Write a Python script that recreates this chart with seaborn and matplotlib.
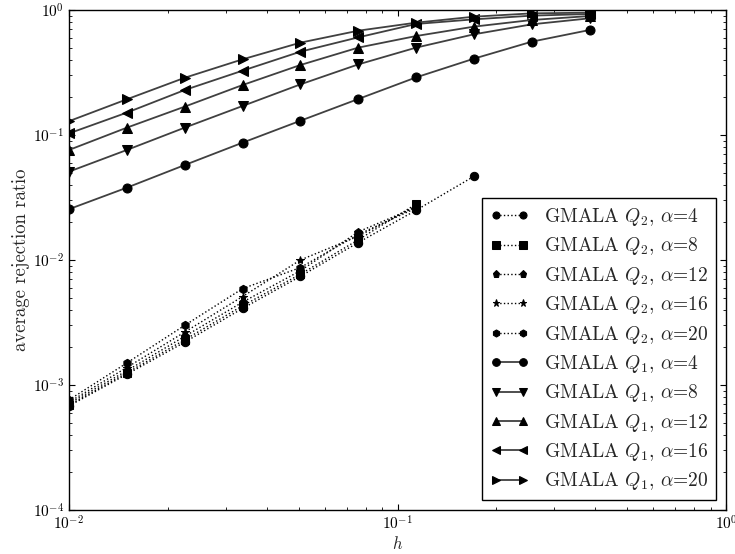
import matplotlib
matplotlib.use("Agg")
import matplotlib.pyplot as plt
import seaborn as sns
import pandas as pd

## step sizes h (geometric, ratio 1.5)
h_q1 = [0.01, 0.015, 0.0225, 0.03375, 0.050625, 0.0759375, 0.11390625, 0.170859375, 0.2562890625, 0.38443359375]
h_q2 = h_q1[:8]

alphas = [4, 8, 12, 16, 20]

## GMALA Q2 (dotted)
q2_a4 = [6.8e-4, 1.22e-3, 2.2e-3, 4.1e-3, 7.4e-3, 1.38e-2, 2.5e-2, 4.67e-2]
q2_a8 = [6.9e-4, 1.25e-3, 2.3e-3, 4.3e-3, 7.7e-3, 1.45e-2, 2.8e-2]
q2_a12 = [7.1e-4, 1.3e-3, 2.45e-3, 4.6e-3, 8.2e-3, 1.68e-2, 2.65e-2]
q2_a16 = [7.3e-4, 1.38e-3, 2.65e-3, 5.1e-3, 1.0e-2, 1.55e-2, 2.7e-2]
q2_a20 = [7.6e-4, 1.5e-3, 3.0e-3, 5.9e-3, 8.7e-3, 1.6e-2, 2.6e-2]

## GMALA Q1 (solid)
q1_a4 = [0.0255, 0.0379, 0.0575, 0.0868, 0.130, 0.194, 0.289, 0.408, 0.558, 0.692]
q1_a8 = [0.0509, 0.0759, 0.1145, 0.1706, 0.254, 0.367, 0.50, 0.639, 0.768, 0.858]
q1_a12 = [0.0759, 0.1145, 0.1686, 0.251, 0.363, 0.50, 0.619, 0.736, 0.832, 0.895]
q1_a16 = [0.103, 0.151, 0.229, 0.327, 0.464, 0.604, 0.773, 0.842, 0.901, 0.929]
q1_a20 = [0.129, 0.193, 0.287, 0.403, 0.548, 0.683, 0.792, 0.884, 0.94, 0.952]

q2_series = [q2_a4, q2_a8, q2_a12, q2_a16, q2_a20]
q1_series = [q1_a4, q1_a8, q1_a12, q1_a16, q1_a20]
q2_markers = ["o", "s", "p", "*", "h"]
q1_markers = ["o", "v", "^", "<", ">"]

sns.set_style("ticks")
plt.rcParams["font.family"] = ["cmr10", "DejaVu Serif"]
plt.rcParams["mathtext.fontset"] = "cm"
plt.rcParams["axes.formatter.use_mathtext"] = True

fig = plt.figure(figsize=(7.35, 5.54), dpi=100)
ax = fig.add_axes([69 / 735, 44 / 554, 657 / 735, 500 / 554])

for a, vals, mk in zip(alphas, q2_series, q2_markers):
    df = pd.DataFrame({"h": h_q2[:len(vals)], "ratio": vals})
    sns.lineplot(data=df, x="h", y="ratio", ax=ax, color="k", linestyle=":", linewidth=1.0,
                 marker=mk, markersize=6, markeredgecolor="k", markerfacecolor="k",
                 label=r"GMALA $Q_2$, $\alpha$=%d" % a)
for a, vals, mk in zip(alphas, q1_series, q1_markers):
    df = pd.DataFrame({"h": h_q1[:len(vals)], "ratio": vals})
    sns.lineplot(data=df, x="h", y="ratio", ax=ax, color="0.25", linestyle="-", linewidth=1.3,
                 marker=mk, markersize=6.5, markeredgecolor="k", markerfacecolor="k",
                 label=r"GMALA $Q_1$, $\alpha$=%d" % a)

ax.set_xscale("log")
ax.set_yscale("log")
ax.set_xlim(1e-2, 1e0)
ax.set_ylim(1e-4, 1e0)
ax.set_xlabel(r"$h$", fontsize=12, labelpad=1)
ax.set_ylabel("average rejection ratio", fontsize=13.5, labelpad=2)
ax.tick_params(which="both", direction="in", top=True, right=True, labelsize=11, colors="k")
ax.tick_params(which="major", length=4)
ax.tick_params(which="minor", length=2)
for sp in ax.spines.values():
    sp.set_color("k")
    sp.set_linewidth(1.0)

leg = ax.legend(loc="lower right", numpoints=2, fancybox=False, framealpha=1, edgecolor="k",
                fontsize=14, handlelength=2.0, borderaxespad=0.5, labelspacing=0.38,
                markerscale=0.85)
leg.get_frame().set_linewidth(1.0)

fig.savefig("out.png", dpi=100)
